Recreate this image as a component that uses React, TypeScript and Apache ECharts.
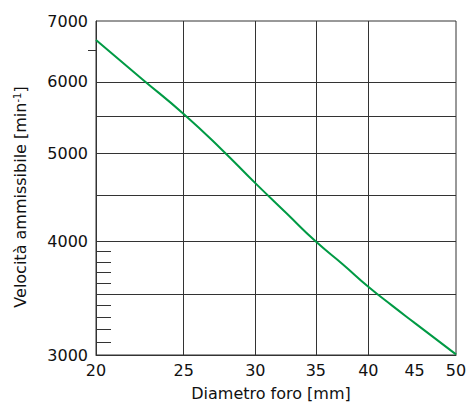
import React, { useEffect, useRef } from "react";
import * as echarts from "echarts";

// Curve: permissible speed vs bore diameter (log-log chart)
const diameters = [20, 22.5, 25, 27.5, 30, 32.5, 35, 37.5, 40, 42.5, 45, 50];
const speeds = [6670, 6040, 5530, 5060, 4640, 4295, 4000, 3775, 3567, 3400, 3255, 3005];

const xRange = [20, 50];
const yRange = [3000, 7000];
const xTickLabels = [20, 25, 30, 35, 40, 45, 50];
const xGridValues = [25, 30, 35, 40];
const yTickLabels = [3000, 4000, 5000, 6000, 7000];
const yGridValues = [3500, 4000, 4500, 5000, 5500, 6000];
const yMinorInner = [3100, 3200, 3300, 3400, 3600, 3700, 3800, 3900];
const yMinorOuter = [6500];

const lg = (v: number) => Math.log10(v);
const fmt = (v: number) => String(Math.round(Math.pow(10, v)));

const FONT = "'DejaVu Sans', 'Liberation Sans', Arial, sans-serif";
const LINE = "#333";

export default function App() {
  const ref = useRef<HTMLDivElement>(null);
  useEffect(() => {
    if (!ref.current) return;
    const chart = echarts.init(ref.current, undefined, { renderer: "svg" });
    const yMin = lg(yRange[0]);
    const yMax = lg(yRange[1]);
    const hiddenYAxis = (values: number[], inside: boolean, length: number) => ({
      type: "value",
      position: "left",
      offset: 0,
      min: yMin,
      max: yMax,
      axisLine: { show: false },
      axisLabel: { show: false },
      splitLine: { show: false },
      axisTick: {
        show: true,
        inside,
        length,
        customValues: values.map(lg),
        lineStyle: { color: LINE, width: 1 },
      },
    });
    chart.setOption({
      animation: false,
      backgroundColor: "#fff",
      grid: {
        left: 96,
        right: 16,
        top: 21,
        bottom: 52,
        show: true,
        borderColor: LINE,
        borderWidth: 1,
      },
      xAxis: {
        type: "value",
        min: lg(xRange[0]),
        max: lg(xRange[1]),
        name: "Diametro foro [mm]",
        nameLocation: "middle",
        nameGap: 30,
        nameTextStyle: {
          fontSize: 16,
          color: "#111",
          fontFamily: FONT,
          verticalAlign: "top",
          padding: [0, 10, 0, 0],
        },
        axisLine: { show: true, lineStyle: { color: LINE, width: 1 } },
        axisTick: { show: false, customValues: xGridValues.map(lg) },
        axisLabel: {
          customValues: xTickLabels.map(lg),
          formatter: fmt,
          fontSize: 16,
          color: "#111",
          fontFamily: FONT,
          margin: 7,
        },
        splitLine: { show: true, lineStyle: { color: LINE, width: 1 } },
      },
      yAxis: [
        {
          type: "value",
          position: "left",
          min: yMin,
          max: yMax,
          name: "{a|Velocità ammissibile [min}{s|-1}{a|]}",
          nameLocation: "middle",
          nameRotate: 90,
          nameGap: 68,
          nameTextStyle: {
            color: "#111",
            fontFamily: FONT,
            padding: [0, 18, 0, 0],
            rich: {
              a: { fontSize: 16, color: "#111", fontFamily: FONT },
              s: { fontSize: 10, color: "#111", fontFamily: FONT, verticalAlign: "top" },
            },
          },
          axisLine: { show: true, lineStyle: { color: LINE, width: 1 } },
          axisTick: { show: false, customValues: yGridValues.map(lg) },
          axisLabel: {
            customValues: yTickLabels.map(lg),
            formatter: fmt,
            fontSize: 16,
            color: "#111",
            fontFamily: FONT,
            margin: 8,
          },
          splitLine: { show: true, lineStyle: { color: LINE, width: 1 } },
        },
        hiddenYAxis(yMinorInner, true, 15),
        hiddenYAxis(yMinorOuter, false, 8),
      ],
      series: [
        {
          type: "line",
          xAxisIndex: 0,
          yAxisIndex: 0,
          data: diameters.map((d, i) => [lg(d), lg(speeds[i])]),
          showSymbol: false,
          smooth: true,
          lineStyle: { color: "#009a44", width: 2 },
        },
      ],
    });
    return () => chart.dispose();
  }, []);
  return (
    <div
      ref={ref}
      style={{ position: "absolute", left: 0, top: 0, width: 472, height: 407, background: "#fff" }}
    />
  );
}
